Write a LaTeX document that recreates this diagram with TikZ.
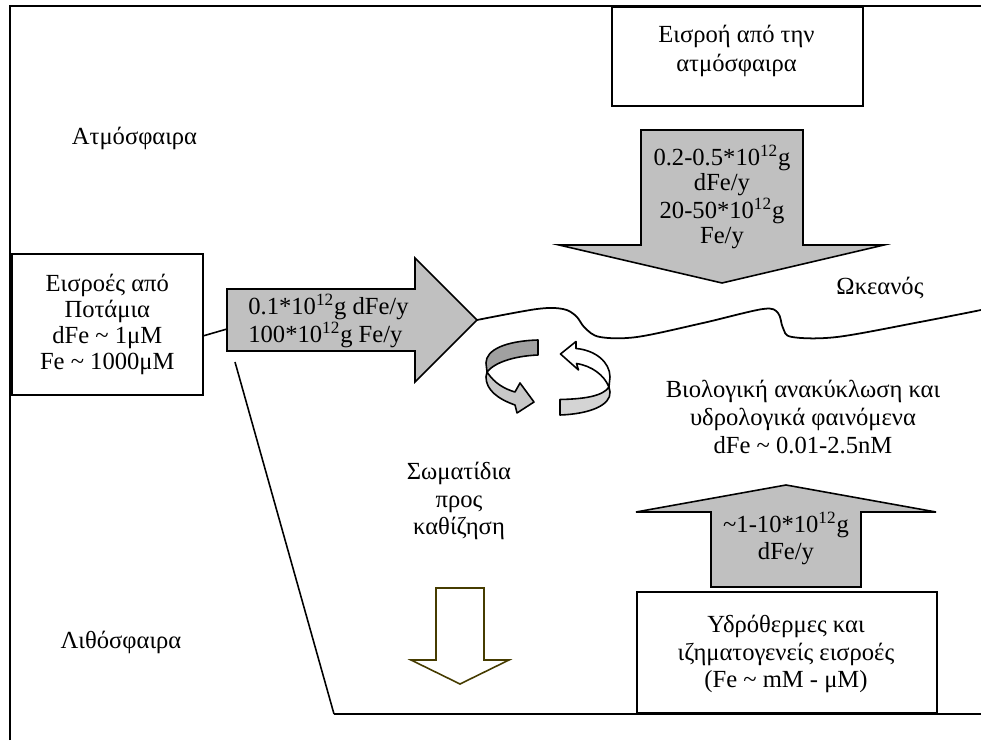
\documentclass[tikz,border=0pt]{standalone}
\usepackage{fontspec}
\setmainfont{Liberation Serif}
\usepackage{xcolor}
\usetikzlibrary{positioning}

\definecolor{flowgray}{HTML}{C0C0C0}
\definecolor{ringdark}{HTML}{A0A0A0}
\definecolor{ringlight}{HTML}{C8C8C8}
\definecolor{ringpale}{HTML}{D4D4D4}
\definecolor{sinkolive}{RGB}{70,60,0}

\begin{document}
\begin{tikzpicture}[
    txt/.style={align=center, inner sep=0pt, font=\fontsize{14}{15.5}\selectfont},
    boxline/.style={draw=black, line width=0.9pt, inner sep=0pt},
    flowarrow/.style={fill=flowgray, draw=black, line width=0.9pt, line join=miter},
    ringline/.style={draw=black, line width=0.9pt, line join=round}
]
    % 0. Page size of the reference
    \useasboundingbox (0,0) rectangle (19.62,14.8);

    % 1. Frame on the left and at the top
    \draw[line width=1.2pt] (0.2,0) -- (0.2,14.68) -- (19.62,14.68);

    % 2. Names of the spheres
    \node[txt] (atmo) at (2.69,12.04) {Ατμόσφαιρα};
    \node[txt] (ocean) at (17.6,9.04) {Ωκεανός};
    \node[txt] (litho) at (2.42,1.96) {Λιθόσφαιρα};

    % 3. Input from the atmosphere
    \node[boxline, minimum width=5.02cm, minimum height=1.98cm, anchor=north west] (airbox) at (12.22,14.68) {};
    \node[txt, font=\fontsize{14}{16}\selectfont] (airtext) at (14.73,13.78) {Εισροή από την\\ατμόσφαιρα};
    \draw[flowarrow] (12.82,12.2) -- (16.06,12.2) -- (16.06,9.9) -- (17.68,9.9)
        -- (14.44,9.14) -- (11.18,9.9) -- (12.82,9.9) -- cycle;
    \node[txt, font=\fontsize{14}{14.3}\selectfont] (airflux) at (14.44,10.86)
        {0.2-0.5*10\textsuperscript{12}g\\dFe/y\\20-50*10\textsuperscript{12}g\\Fe/y};

    % 4. Input from the rivers
    \node[boxline, minimum width=3.82cm, minimum height=2.82cm, anchor=north west] (riverbox) at (0.22,9.74) {};
    \node[txt, font=\fontsize{14}{14.8}\selectfont] (rivertext) at (riverbox.center)
        {Εισροές από\\Ποτάμια\\dFe \textasciitilde{} 1μM\\Fe \textasciitilde{} 1000μM};
    \draw[flowarrow] (4.54,9.02) -- (8.3,9.02) -- (8.3,9.64) -- (9.54,8.4)
        -- (8.3,7.16) -- (8.3,7.78) -- (4.54,7.78) -- cycle;
    \coordinate (rivtail) at (4.54,8.22);
    \coordinate (rivtip) at (9.54,8.4);
    \node[txt, align=left, anchor=west, font=\fontsize{14}{14.3}\selectfont] (riverflux) at (4.96,8.38)
        {0.1*10\textsuperscript{12}g dFe/y\\100*10\textsuperscript{12}g Fe/y};
    \draw[line width=0.9pt] ([yshift=-0.23cm]riverbox.east) -- (rivtail);

    % 5. Sea surface and sea floor
    \draw[line width=1pt] plot[smooth, tension=0.55] coordinates {
        (rivtip) (10.74,8.62) (11.26,8.62) (11.52,8.48) (11.7,8.24) (12.0,8.06)
        (12.74,8.06) (14.06,8.34) (15.26,8.62) (15.56,8.54) (15.66,8.24)
        (15.84,8.06) (16.74,8.06) (18.4,8.36) (19.62,8.6)};
    \coordinate (slope) at (4.7,7.56);
    \coordinate (floor) at (6.68,0.52);
    \draw[line width=0.9pt] (slope) -- (floor);
    \draw[line width=1.4pt] (floor) -- (19.62,0.52);

    % 6. Recycling, two turning arrows
    \filldraw[ringline, fill=ringdark] (10.76,8.0) .. controls (10.1,7.98) and (9.72,7.8) .. (9.72,7.54)
        -- (9.74,7.36) .. controls (9.9,7.56) and (10.3,7.68) .. (10.76,7.7) -- cycle;
    \filldraw[ringline, fill=ringlight] (9.74,7.36) .. controls (9.9,7.12) and (10.1,7.02) .. (10.3,6.96)
        -- (10.4,7.14) -- (10.68,6.76) -- (10.34,6.54) -- (10.3,6.7)
        .. controls (9.96,6.82) and (9.72,7.0) .. (9.72,7.26) -- cycle;
    \filldraw[ringline, fill=white] (11.52,7.83) .. controls (11.9,7.8) and (12.2,7.56) .. (12.2,7.26)
        -- (12.18,7.06) .. controls (12.08,7.3) and (11.84,7.48) .. (11.53,7.53)
        -- (11.57,7.4) -- (11.21,7.72) -- (11.52,7.97) -- cycle;
    \filldraw[ringline, fill=ringpale] (12.18,7.06) .. controls (12.06,6.88) and (11.7,6.82) .. (11.2,6.81)
        -- (11.2,6.5) .. controls (11.8,6.52) and (12.22,6.7) .. (12.2,6.96) -- cycle;
    \node[txt, font=\fontsize{14}{15.8}\selectfont] (biocycle) at (16.06,6.46)
        {Βιολογική ανακύκλωση και\\υδρολογικά φαινόμενα\\dFe \textasciitilde{} 0.01-2.5nM};

    % 7. Particles that settle
    \node[txt, font=\fontsize{14}{15.8}\selectfont] (settle) at (9.18,4.78) {Σωματίδια\\προς\\καθίζηση};
    \draw[draw=sinkolive, line width=0.9pt, fill=white] (8.72,3.04) -- (9.68,3.04) -- (9.68,1.6)
        -- (10.18,1.6) -- (9.2,1.12) -- (8.22,1.6) -- (8.72,1.6) -- cycle;

    % 8. Hydrothermal input from below
    \node[boxline, minimum width=6cm, minimum height=2.42cm, anchor=south west] (ventbox) at (12.72,0.52) {};
    \node[txt, font=\fontsize{14}{15.8}\selectfont] (venttext) at (15.72,1.72)
        {Υδρόθερμες και\\ιζηματογενείς εισροές\\(Fe \textasciitilde{} mM - μM)};
    \draw[flowarrow] (14.22,3.06) -- (17.22,3.06) -- (17.22,4.56) -- (18.72,4.56)
        -- (15.72,5.1) -- (12.72,4.56) -- (14.22,4.56) -- cycle;
    \node[txt, font=\fontsize{14}{15}\selectfont] (ventflux) at (15.72,4.03)
        {\textasciitilde1-10*10\textsuperscript{12}g\\dFe/y};
\end{tikzpicture}
\end{document}
